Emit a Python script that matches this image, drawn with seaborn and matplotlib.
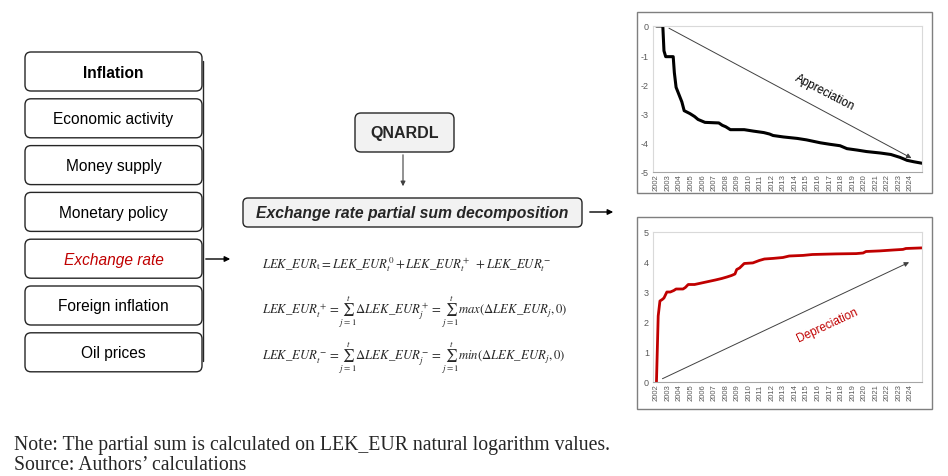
import numpy as np
import pandas as pd
import matplotlib
matplotlib.use("Agg")
import matplotlib.pyplot as plt
from matplotlib.patches import FancyBboxPatch, Rectangle
import seaborn as sns

# --- data -----------------------------------------------------------------
factors = ["Inflation", "Economic activity", "Money supply", "Monetary policy",
           "Exchange rate", "Foreign inflation", "Oil prices"]

years = list(range(2002, 2025))

# negative partial sum (appreciation), decimal year / value
neg_x = [2002.0, 2002.55, 2002.65, 2002.8, 2003.45, 2003.55, 2003.7, 2004.0, 2004.2,
         2004.4, 2004.9, 2005.3, 2005.6, 2006.2, 2007.4, 2007.7, 2008.0, 2008.4,
         2009.6, 2010.4, 2011.3, 2011.8, 2012.1, 2013.0, 2014.2, 2015.0, 2016.2,
         2017.0, 2017.9, 2018.5, 2019.4, 2020.2, 2021.4, 2022.3, 2023.1, 2023.7,
         2024.3, 2025.0]
neg_y = [0.0, 0.0, -0.85, -1.05, -1.05, -1.6, -2.1, -2.4, -2.6,
         -2.9, -3.0, -3.1, -3.2, -3.3, -3.32, -3.4, -3.45, -3.55,
         -3.55, -3.6, -3.65, -3.7, -3.75, -3.8, -3.85, -3.9, -4.0,
         -4.05, -4.1, -4.2, -4.25, -4.3, -4.35, -4.4, -4.5, -4.6,
         -4.65, -4.7]

# positive partial sum (depreciation)
pos_x = [2002.0, 2002.15, 2002.3, 2002.5, 2002.65, 2002.9, 2003.2, 2003.5, 2003.7,
         2004.3, 2004.5, 2004.75, 2005.3, 2005.9, 2006.5, 2007.1, 2007.65, 2008.1,
         2008.5, 2008.8, 2008.95, 2009.2, 2009.6, 2010.35, 2010.9, 2011.35,
         2012.1, 2012.95, 2013.5, 2014.7, 2015.5, 2017.55, 2019.3, 2019.9,
         2020.15, 2021.35, 2022.5, 2023.35, 2023.6, 2025.0]
pos_y = [0.0, 2.2, 2.7, 2.75, 2.8, 3.0, 3.0, 3.05, 3.1,
         3.1, 3.15, 3.25, 3.25, 3.3, 3.35, 3.4, 3.45, 3.5,
         3.55, 3.6, 3.75, 3.8, 3.95, 3.97, 4.05, 4.1,
         4.12, 4.15, 4.2, 4.22, 4.25, 4.27, 4.28, 4.3,
         4.35, 4.37, 4.4, 4.42, 4.45, 4.47]

red = "#c00000"
gray_txt = "#595959"

sns.set_style("white")
plt.rcParams["font.family"] = ["Liberation Sans", "DejaVu Sans"]
plt.rcParams["mathtext.fontset"] = "stix"
plt.rcParams["axes.unicode_minus"] = False

fig = plt.figure(figsize=(9.48, 4.77), dpi=100)

# overlay in pixel coordinates
ov = fig.add_axes([0, 0, 1, 1], zorder=0)
ov.set_xlim(0, 948)
ov.set_ylim(477, 0)
ov.axis("off")

# left stack of boxes
for i, name in enumerate(factors):
    top = 53 + i * 46.8
    ov.add_patch(FancyBboxPatch((25, top), 177, 39,
                                boxstyle="round,pad=0,rounding_size=6",
                                fc="white", ec="#262626", lw=1.0))
    kw = dict(ha="center", va="center", fontsize=11.2, color="black")
    if name == "Inflation":
        kw["fontweight"] = "bold"
    if name == "Exchange rate":
        kw["color"] = red
        kw["style"] = "italic"
    ov.text(113.5, top + 20, name, **kw)
ov.plot([203, 203], [62, 362], color="#262626", lw=1.0)
ov.annotate("", xy=(233, 260), xytext=(203, 260),
            arrowprops=dict(arrowstyle="-|>", color="black", lw=1.0, mutation_scale=8))

# QNARDL box
ov.add_patch(FancyBboxPatch((355, 114), 99, 39,
                            boxstyle="round,pad=0,rounding_size=6",
                            fc="#f2f2f2", ec="#262626", lw=1.0))
ov.text(404.5, 133.5, "QNARDL", ha="center", va="center",
        fontsize=11.5, fontweight="bold")
ov.annotate("", xy=(403, 190), xytext=(403, 153),
            arrowprops=dict(arrowstyle="-|>", color="#404040", lw=0.8, mutation_scale=7))

# decomposition box
ov.add_patch(FancyBboxPatch((243, 199), 339, 29,
                            boxstyle="round,pad=0,rounding_size=5",
                            fc="#f2f2f2", ec="#262626", lw=1.0))
ov.text(412.5, 213.5, "Exchange rate partial sum decomposition", ha="center",
        va="center", fontsize=11.3, fontweight="bold", style="italic")
ov.annotate("", xy=(616, 213), xytext=(587, 213),
            arrowprops=dict(arrowstyle="-|>", color="black", lw=1.0, mutation_scale=8))

# equations
eq1 = r"$LEK\_EUR_{\mathrm{t}} = LEK\_EUR_t^0 + LEK\_EUR_t^+\ + LEK\_EUR_t^-$"
eq2 = (r"$LEK\_EUR_t^+ = \sum_{j=1}^{t}\Delta LEK\_EUR_j^+ = "
       r"\sum_{j=1}^{t} max\left(\Delta LEK\_EUR_j, 0\right)$")
eq3 = (r"$LEK\_EUR_t^- = \sum_{j=1}^{t}\Delta LEK\_EUR_j^- = "
       r"\sum_{j=1}^{t} min\left(\Delta LEK\_EUR_j, 0\right)$")
ov.text(262, 268, eq1, ha="left", va="baseline", fontsize=9.2)
ov.text(262, 314, eq2, ha="left", va="baseline", fontsize=9.2)
ov.text(262, 360, eq3, ha="left", va="baseline", fontsize=9.2)

# chart borders
for (x0, y0, x1, y1) in [(637, 13, 932, 194), (637, 218, 932, 410)]:
    ov.add_patch(Rectangle((x0, y0), x1 - x0, y1 - y0, fc="white",
                           ec="#7f7f7f", lw=1.0))

# notes
ov.text(14, 446, "Note: The partial sum is calculated on LEK_EUR natural logarithm values.",
        ha="left", va="center", fontsize=14.2, family="Liberation Serif")
ov.text(14, 466, "Source: Authors\u2019 calculations",
        ha="left", va="center", fontsize=14.2, family="Liberation Serif")


def style_chart(ax, ylo, yhi):
    ax.set_xlim(2001.7, 2025.0)
    ax.set_ylim(ylo, yhi)
    ax.set_xticks(years)
    ax.set_xticklabels([str(y) for y in years], rotation=90, fontsize=5.5,
                       color=gray_txt)
    ax.set_yticks(range(int(ylo), int(yhi) + 1))
    ax.tick_params(axis="y", labelsize=6.5, colors=gray_txt, length=0, pad=3)
    ax.tick_params(axis="x", length=0, pad=1)
    for s in ax.spines.values():
        s.set_color("#d9d9d9")
        s.set_linewidth(0.8)
    ax.set_xlabel("")
    ax.set_ylabel("")


neg_df = pd.DataFrame({"year": neg_x, "value": neg_y})
pos_df = pd.DataFrame({"year": pos_x, "value": pos_y})

ax1 = fig.add_axes([653 / 948, 1 - 173 / 477, 269 / 948, 146 / 477], zorder=2)
sns.lineplot(data=neg_df, x="year", y="value", ax=ax1, color="black", lw=2.2,
             estimator=None, sort=False)
style_chart(ax1, -5, 0)
ax1.spines["bottom"].set_color("#a6a6a6")
ax1.annotate("", xy=(2024.3, -4.57), xytext=(2002.87, -0.03),
             arrowprops=dict(arrowstyle="-|>", color="#404040", lw=0.7, mutation_scale=7))
ax1.text(2016.6, -2.25, "Appreciation", rotation=-27.5, ha="center", va="center",
         fontsize=8.5, color="black", rotation_mode="anchor")

ax2 = fig.add_axes([653 / 948, 1 - 383 / 477, 269 / 948, 150 / 477], zorder=2)
sns.lineplot(data=pos_df, x="year", y="value", ax=ax2, color=red, lw=2.0,
             estimator=None, sort=False)
style_chart(ax2, 0, 5)
ax2.spines["bottom"].set_color("#a6a6a6")
ax2.annotate("", xy=(2024.1, 4.03), xytext=(2002.3, 0.07),
             arrowprops=dict(arrowstyle="-|>", color="#404040", lw=0.7, mutation_scale=7))
ax2.text(2016.8, 1.9, "Depreciation", rotation=25, ha="center", va="center",
         fontsize=8.5, color=red, rotation_mode="anchor")

fig.savefig("out.png", dpi=100)
